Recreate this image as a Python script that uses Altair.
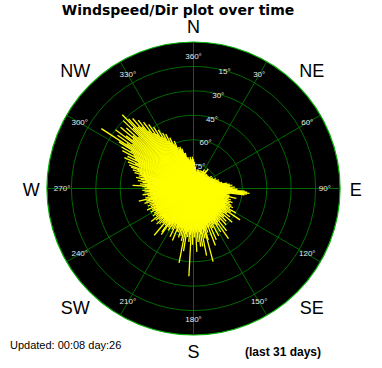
import altair as alt
import pandas as pd

# ---- data -------------------------------------------------------------
R = 60  # outer ring value
ring_r = [10, 20, 30, 40, 50]
ring_labels = ["75°", "60°", "45°", "30°", "15°"]
spoke_angles = [0, 30, 60, 90, 120, 150, 180, 210, 240, 270, 300, 330]
angle_labels = ["360°", "30°", "60°", "90°", "120°", "150°", "180°", "210°",
                "240°", "270°", "300°", "330°"]
compass = ["N", "NE", "E", "SE", "S", "SW", "W", "NW"]
compass_angles = [0, 45, 90, 135, 180, 225, 270, 315]

wind_dir = [
    0, 1, 2, 3, 4, 5, 6, 7, 8, 9,
    10, 11, 12, 13, 14, 15, 16, 17, 18, 19,
    20, 21, 22, 23, 24, 25, 26, 27, 28, 29,
    30, 31, 32, 33, 34, 35, 36, 37, 38, 39,
    40, 41, 42, 43, 44, 45, 46, 47, 48, 49,
    50, 51, 52, 53, 54, 55, 56, 57, 58, 59,
    60, 61, 62, 63, 64, 65, 66, 67, 68, 69,
    70, 71, 72, 73, 74, 75, 76, 77, 78, 79,
    80, 81, 82, 83, 84, 85, 86, 87, 88, 89,
    90, 91, 92, 93, 94, 95, 96, 97, 98, 99,
    100, 101, 102, 103, 104, 105, 106, 107, 108, 109,
    110, 111, 112, 113, 114, 115, 116, 117, 118, 119,
    120, 121, 122, 123, 124, 125, 126, 127, 128, 129,
    130, 131, 132, 133, 134, 135, 136, 137, 138, 139,
    140, 141, 142, 143, 144, 145, 146, 147, 148, 149,
    150, 151, 152, 153, 154, 155, 156, 157, 158, 159,
    160, 161, 162, 163, 164, 165, 166, 167, 168, 169,
    170, 171, 172, 173, 174, 175, 176, 177, 178, 179,
    180, 181, 182, 183, 184, 185, 186, 187, 188, 189,
    190, 191, 192, 193, 194, 195, 196, 197, 198, 199,
    200, 201, 202, 203, 204, 205, 206, 207, 208, 209,
    210, 211, 212, 213, 214, 215, 216, 217, 218, 219,
    220, 221, 222, 223, 224, 225, 226, 227, 228, 229,
    230, 231, 232, 233, 234, 235, 236, 237, 238, 239,
    240, 241, 242, 243, 244, 245, 246, 247, 248, 249,
    250, 251, 252, 253, 254, 255, 256, 257, 258, 259,
    260, 261, 262, 263, 264, 265, 266, 267, 268, 269,
    270, 271, 272, 273, 274, 275, 276, 277, 278, 279,
    280, 281, 282, 283, 284, 285, 286, 287, 288, 289,
    290, 291, 292, 293, 294, 295, 296, 297, 298, 299,
    300, 301, 302, 303, 304, 305, 306, 307, 308, 309,
    310, 311, 312, 313, 314, 315, 316, 317, 318, 319,
    320, 321, 322, 323, 324, 325, 326, 327, 328, 329,
    330, 331, 332, 333, 334, 335, 336, 337, 338, 339,
    340, 341, 342, 343, 344, 345, 346, 347, 348, 349,
    350, 351, 352, 353, 354, 355, 356, 357, 358, 359,
]
wind_speed = [
    12, 9, 11, 8, 7, 9, 6, 8, 7, 6,
    7, 6, 8, 6, 7, 6, 8, 7, 6, 7,
    6, 8, 7, 6, 7, 8, 6, 7, 6, 8,
    9, 7, 6, 8, 7, 9, 8, 10, 7, 6,
    7, 6, 8, 7, 6, 8, 7, 6, 7, 8,
    6, 7, 8, 7, 6, 8, 9, 7, 8, 7,
    8, 9, 7, 8, 9, 8, 10, 9, 8, 10,
    9, 11, 9, 10, 11, 9, 10, 11, 12, 10,
    12, 14, 13, 15, 13, 16, 14, 15, 17, 14,
    16, 18, 17, 21, 22, 23, 22, 21, 15, 14,
    13, 15, 14, 18, 13, 15, 14, 16, 13, 15,
    17, 14, 16, 15, 17, 14, 18, 15, 17, 16,
    20, 15, 18, 16, 23, 15, 17, 14, 19, 16,
    15, 21, 15, 17, 14, 19, 16, 15, 20, 15,
    17, 16, 22, 15, 17, 25, 16, 18, 21, 15,
    17, 16, 22, 15, 18, 16, 23, 15, 17, 25,
    17, 16, 19, 17, 22, 31, 18, 21, 17, 28,
    19, 24, 18, 24, 17, 22, 18, 26, 17, 20,
    18, 23, 17, 36, 19, 22, 17, 20, 18, 26,
    19, 31, 18, 22, 17, 20, 18, 21, 17, 19,
    17, 19, 23, 17, 18, 16, 22, 17, 19, 16,
    18, 20, 17, 19, 18, 23, 22, 17, 19, 18,
    25, 17, 19, 18, 20, 17, 21, 18, 19, 17,
    20, 18, 22, 17, 19, 18, 20, 17, 19, 18,
    18, 20, 17, 19, 18, 21, 17, 19, 18, 20,
    17, 19, 18, 21, 17, 20, 19, 23, 18, 20,
    17, 19, 18, 21, 19, 18, 20, 19, 21, 18,
    20, 19, 21, 25, 20, 22, 19, 21, 23, 20,
    22, 24, 21, 23, 22, 25, 23, 26, 24, 27,
    28, 24, 29, 26, 31, 25, 30, 27, 33, 28,
    34, 30, 36, 45, 33, 38, 31, 40, 35, 32,
    39, 33, 37, 31, 40, 35, 42, 39, 34, 38,
    33, 36, 30, 34, 28, 32, 27, 30, 25, 28,
    24, 26, 22, 25, 21, 23, 20, 19, 21, 17,
    18, 17, 18, 16, 17, 15, 14, 15, 13, 12,
    13, 12, 11, 12, 13, 12, 11, 12, 13, 12,
]

title_text = "Windspeed/Dir plot over time"
updated_text = "Updated: 00:08 day:26"
period_text = "(last 31 days)"

# ---- scales -------------------------------------------------------------
W = 293
xs = alt.Scale(domain=[-R, R], nice=False, zero=False)
ys = alt.Scale(domain=[-R, R], nice=False, zero=False)
rs = alt.Scale(type="linear", domain=[0, R], range=[0, W / 2], zero=True)

GRID = "#006800"
EDGE = "#00b000"
FONT = "Liberation Sans"


def xy_rule(df, rcol):
    return (alt.Chart(df)
            .transform_calculate(
                x0="0", y0="0",
                x1=f"datum.{rcol} * sin(datum.a * PI / 180)",
                y1=f"datum.{rcol} * cos(datum.a * PI / 180)"))


# background disk
disk = alt.Chart(pd.DataFrame({"r": [R]})).mark_arc(
    theta=0, theta2=6.2832, fill="black", stroke=EDGE, strokeWidth=1.2
).encode(radius=alt.Radius("r:Q", scale=rs, stack=None))

# grid rings
rings = alt.Chart(pd.DataFrame({"r": ring_r})).mark_arc(
    theta=0, theta2=6.2832, filled=False, stroke=GRID, strokeWidth=1
).encode(radius=alt.Radius("r:Q", scale=rs, stack=None))

# radial grid lines
spokes = xy_rule(pd.DataFrame({"a": spoke_angles, "r": [R] * len(spoke_angles)}), "r").mark_rule(
    color=GRID, strokeWidth=1
).encode(
    x=alt.X("x0:Q", scale=xs, axis=None),
    y=alt.Y("y0:Q", scale=ys, axis=None),
    x2="x1:Q", y2="y1:Q",
)

# wind data
wind = xy_rule(pd.DataFrame({"a": wind_dir, "s": wind_speed}), "s").mark_rule(
    color="#ffff00", strokeWidth=1.3
).encode(
    x=alt.X("x0:Q", scale=xs, axis=None),
    y=alt.Y("y0:Q", scale=ys, axis=None),
    x2="x1:Q", y2="y1:Q",
)

# angle labels
alab = alt.Chart(pd.DataFrame({"a": spoke_angles, "t": angle_labels})).transform_calculate(
    lx="53.8 * sin(datum.a * PI / 180)",
    ly="53.8 * cos(datum.a * PI / 180)",
).mark_text(font=FONT, fontSize=8, color="#e8e8e8", align="center", baseline="middle").encode(
    x=alt.X("lx:Q", scale=xs, axis=None),
    y=alt.Y("ly:Q", scale=ys, axis=None),
    text="t:N",
)

# ring labels
rlab = alt.Chart(pd.DataFrame({"r": ring_r, "t": ring_labels})).transform_calculate(
    lx="(datum.r - 0.8) * sin(15 * PI / 180)",
    ly="(datum.r - 0.8) * cos(15 * PI / 180)",
).mark_text(font=FONT, fontSize=8, color="#e8e8e8", align="center", baseline="middle").encode(
    x=alt.X("lx:Q", scale=xs, axis=None),
    y=alt.Y("ly:Q", scale=ys, axis=None),
    text="t:N",
)

# compass labels
clab = alt.Chart(pd.DataFrame({"a": compass_angles, "t": compass})).transform_calculate(
    rr="(datum.a % 90 == 0) ? 66.5 : 68.5",
    lx="datum.rr * sin(datum.a * PI / 180)",
    ly="datum.rr * cos(datum.a * PI / 180)",
).mark_text(font=FONT, fontSize=18, color="black", align="center", baseline="middle", dy=2).encode(
    x=alt.X("lx:Q", scale=xs, axis=None),
    y=alt.Y("ly:Q", scale=ys, axis=None),
    text="t:N",
)

# annotations (pixel positions relative to plot area)
title = alt.Chart(pd.DataFrame({"t": [title_text]})).mark_text(
    font="DejaVu Sans", fontSize=14, fontWeight="bold", color="black", align="center", baseline="middle"
).encode(text="t:N", x=alt.value(131), y=alt.value(-31))

updated = alt.Chart(pd.DataFrame({"t": [updated_text]})).mark_text(
    font=FONT, fontSize=11, color="black", align="left", baseline="middle"
).encode(text="t:N", x=alt.value(-37), y=alt.value(304))

period = alt.Chart(pd.DataFrame({"t": [period_text]})).mark_text(
    font=FONT, fontSize=12, fontWeight="bold", color="black", align="left", baseline="middle"
).encode(text="t:N", x=alt.value(198), y=alt.value(310))

chart = alt.layer(
    disk, rings, spokes, wind, alab, rlab, clab, title, updated, period
).properties(
    width=W, height=W,
    autosize=alt.AutoSizeParams(type="none"),
    padding={"left": 47, "top": 42, "right": 42, "bottom": 33},
    background="white",
).configure_view(strokeWidth=0)

chart.save("out.html", embed_options={"renderer": "svg", "actions": False})
